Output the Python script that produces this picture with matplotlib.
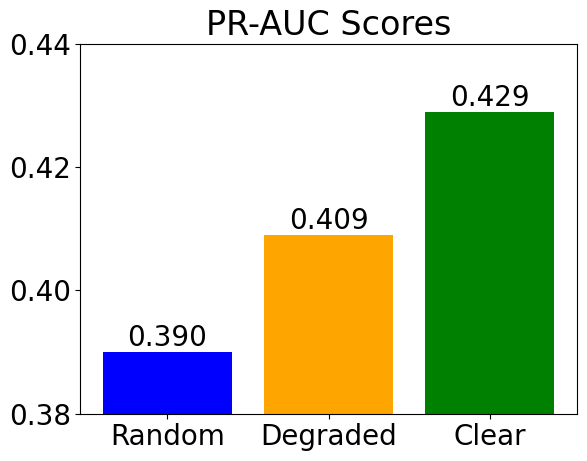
import matplotlib
matplotlib.use('Agg')
import matplotlib.pyplot as plt

categories = ['Random', 'Degraded', 'Clear']
scores = [0.390, 0.409, 0.429]
colors = ['blue', 'orange', 'green']

fig, ax = plt.subplots(figsize=(5.87, 4.61), dpi=100)
fig.subplots_adjust(left=0.137, right=0.983, top=0.905, bottom=0.103)

bars = ax.bar(categories, scores, color=colors)
ax.bar_label(bars, labels=[f'{s:.3f}' for s in scores], fontsize=20)
ax.set_ylim(0.38, 0.44)
ax.set_yticks([0.38, 0.40, 0.42, 0.44])
ax.tick_params(axis='both', labelsize=20)
ax.set_title('PR-AUC Scores', fontsize=24)

plt.savefig('out.png', dpi=100)
